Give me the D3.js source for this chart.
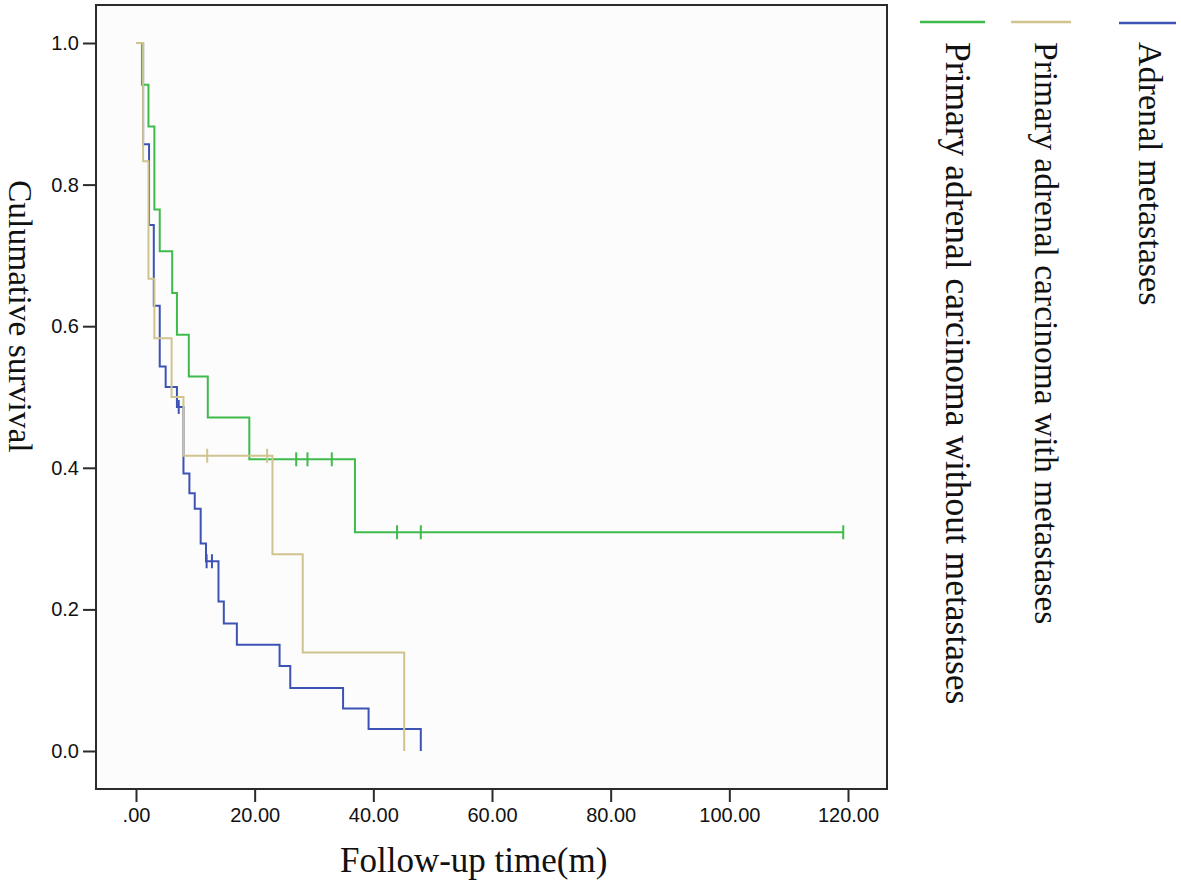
<!DOCTYPE html>
<html>
<head>
<meta charset="utf-8">
<script src="https://cdn.jsdelivr.net/npm/d3@7"></script>
<style>
  html, body { margin: 0; padding: 0; background: #ffffff; }
  svg { display: block; }
</style>
</head>
<body>
<svg id="chart" width="1181" height="881"></svg>
<script>
// ---------- data ----------
const seriesNames = [
  "Primary adrenal carcinoma without metastases",
  "Primary adrenal carcinoma with metastases",
  "Adrenal metastases"
];
const seriesColors = ["#3fba4c", "#cfc48e", "#3d52b5"];

// Primary adrenal carcinoma without metastases (green)
const greenTimes = [0, 1.0, 2.1, 3.1, 4.0, 6.1, 6.9, 8.9, 12.1, 19.1, 36.9, 119.2];
const greenSurv  = [1.0, 0.941, 0.882, 0.765, 0.706, 0.647, 0.588, 0.529, 0.471, 0.412, 0.309, 0.309];
const greenCensorTimes = [27.0, 28.9, 33.0, 44.0, 48.0, 119.2];
const greenCensorSurv  = [0.412, 0.412, 0.412, 0.309, 0.309, 0.309];

// Primary adrenal carcinoma with metastases (tan)
const tanTimes = [0, 1.2, 2.1, 3.1, 6.0, 8.0, 23.0, 28.1, 45.2];
const tanSurv  = [1.0, 0.833, 0.667, 0.583, 0.500, 0.417, 0.278, 0.139, 0.0];
const tanCensorTimes = [12.0, 22.1];
const tanCensorSurv  = [0.417, 0.417];

// Adrenal metastases (blue)
const blueTimes = [0, 1.2, 2.2, 3.0, 4.0, 5.0, 6.9, 8.0, 9.0, 9.9, 10.9, 11.8, 13.9, 14.8, 17.0, 24.2, 26.0, 34.9, 39.2, 48.0];
const blueSurv  = [1.0, 0.857, 0.743, 0.629, 0.543, 0.514, 0.486, 0.392, 0.364, 0.342, 0.293, 0.268, 0.211, 0.180, 0.150, 0.120, 0.089, 0.060, 0.031, 0.0];
const blueCensorTimes = [7.2, 11.9, 12.8];
const blueCensorSurv  = [0.486, 0.268, 0.268];

const xTicks = [0, 20, 40, 60, 80, 100, 120];
const xTickLabels = [".00", "20.00", "40.00", "60.00", "80.00", "100.00", "120.00"];
const yTicks = [0.0, 0.2, 0.4, 0.6, 0.8, 1.0];
const yTickLabels = ["0.0", "0.2", "0.4", "0.6", "0.8", "1.0"];

const xTitle = "Follow-up time(m)";
const yTitle = "Culumative survival";

// ---------- layout ----------
const svg = d3.select("#chart");
const frame = { left: 96, top: 5, right: 887, bottom: 789 };

const x = d3.scaleLinear().domain([0, 120]).range([136, 848]);
const y = d3.scaleLinear().domain([0, 1]).range([751, 43]);

// plot frame
svg.append("rect")
  .attr("x", frame.left).attr("y", frame.top)
  .attr("width", frame.right - frame.left)
  .attr("height", frame.bottom - frame.top)
  .attr("fill", "#fcfcfc")
  .attr("stroke", "#2b2b2b")
  .attr("stroke-width", 2);

// axes
const xAxis = d3.axisBottom(x)
  .tickValues(xTicks)
  .tickFormat((d, i) => xTickLabels[i])
  .tickSize(13).tickSizeOuter(0).tickPadding(6);
const gx = svg.append("g")
  .attr("transform", `translate(0,${frame.bottom})`)
  .call(xAxis);
gx.select(".domain").remove();

const yAxis = d3.axisLeft(y)
  .tickValues(yTicks)
  .tickFormat((d, i) => yTickLabels[i])
  .tickSize(13).tickSizeOuter(0).tickPadding(4);
const gy = svg.append("g")
  .attr("transform", `translate(${frame.left},0)`)
  .call(yAxis);
gy.select(".domain").remove();

[gx, gy].forEach(g => {
  g.selectAll(".tick line").attr("stroke", "#2b2b2b").attr("stroke-width", 2);
  g.selectAll(".tick text")
    .attr("fill", "#111")
    .style("font-family", "Arial, 'Liberation Sans', sans-serif")
    .style("font-size", "20px");
});

// ---------- curves ----------
const series = [
  { t: blueTimes,  s: blueSurv,  ct: blueCensorTimes,  cs: blueCensorSurv,  color: seriesColors[2] },
  { t: greenTimes, s: greenSurv, ct: greenCensorTimes, cs: greenCensorSurv, color: seriesColors[0] },
  { t: tanTimes,   s: tanSurv,   ct: tanCensorTimes,   cs: tanCensorSurv,   color: seriesColors[1] }
];

const line = d3.line()
  .x(d => x(d[0]))
  .y(d => y(d[1]))
  .curve(d3.curveStepAfter);

series.forEach(sr => {
  const pts = sr.t.map((t, i) => [t, sr.s[i]]);
  svg.append("path")
    .datum(pts)
    .attr("d", line)
    .attr("fill", "none")
    .attr("stroke", sr.color)
    .attr("stroke-width", 2);
  const cpts = sr.ct.map((t, i) => [t, sr.cs[i]]);
  svg.append("g").selectAll("line")
    .data(cpts).enter().append("line")
    .attr("x1", d => x(d[0])).attr("x2", d => x(d[0]))
    .attr("y1", d => y(d[1]) - 7).attr("y2", d => y(d[1]) + 7)
    .attr("stroke", sr.color)
    .attr("stroke-width", 2);
});

// ---------- titles ----------
svg.append("text")
  .attr("x", 340).attr("y", 872)
  .style("font-family", "'Liberation Serif', 'Times New Roman', serif")
  .style("font-size", "35px")
  .attr("fill", "#111")
  .text(xTitle);

svg.append("text")
  .attr("transform", "translate(9,180) rotate(90)")
  .style("font-family", "'Liberation Serif', 'Times New Roman', serif")
  .style("font-size", "33.5px")
  .attr("fill", "#111")
  .text(yTitle);

// ---------- legend ----------
const legendLineX = [[920, 985], [1011, 1071], [1119, 1176]];
const legendLineY = [22, 22, 23];
const legendTextX = [946, 1035, 1139];
const legendFont = ["35.5px", "33.5px", "34px"];

seriesNames.forEach((name, i) => {
  svg.append("line")
    .attr("x1", legendLineX[i][0]).attr("x2", legendLineX[i][1])
    .attr("y1", legendLineY[i]).attr("y2", legendLineY[i])
    .attr("stroke", seriesColors[i])
    .attr("stroke-width", 2.5);
  svg.append("text")
    .attr("transform", `translate(${legendTextX[i]},42) rotate(90)`)
    .style("font-family", "'Liberation Serif', 'Times New Roman', serif")
    .style("font-size", legendFont[i])
    .attr("fill", "#111")
    .text(name);
});
</script>
</body>
</html>
